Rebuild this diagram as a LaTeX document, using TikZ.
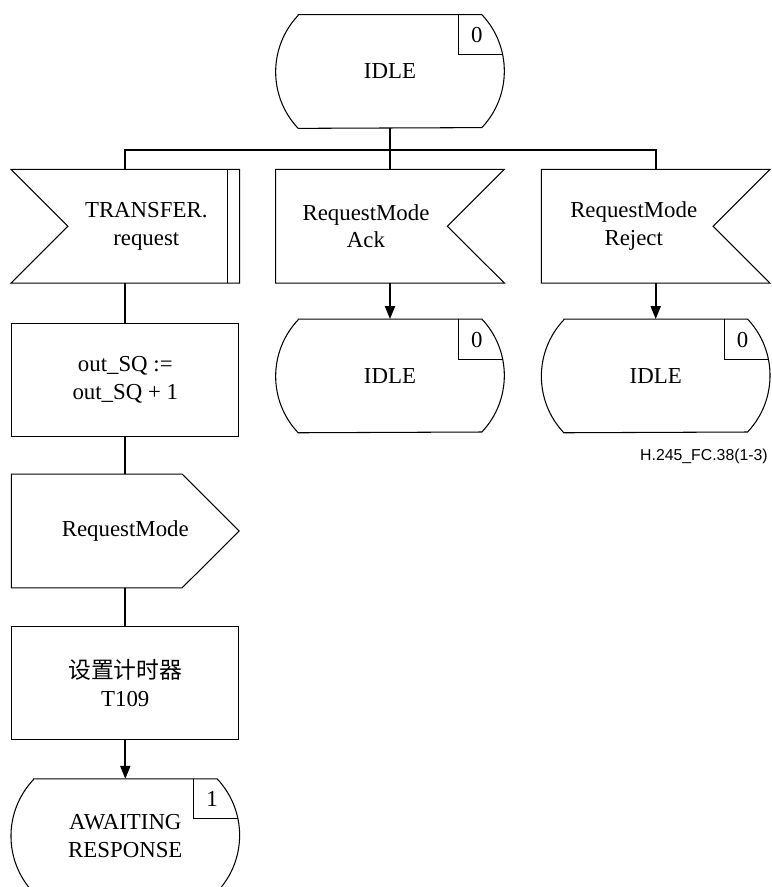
\documentclass[tikz,border=0pt]{standalone}
\usepackage{fontspec}
\setmainfont{Liberation Serif}
\newfontfamily\cjk{Noto Sans CJK SC}
\newfontfamily\policeref{Liberation Sans}
\usetikzlibrary{arrows.meta, positioning}
\tikzset{
  etat/.style={minimum width=45.6mm, minimum height=22.6mm, inner sep=0pt, align=center},
  entree/.style={minimum width=45.6mm, minimum height=22.6mm, inner sep=0pt},
  tache/.style={draw, line width=0.6pt, minimum width=45.4mm, minimum height=22.6mm,
    inner sep=0pt, align=center},
  sortie/.style={minimum width=45.4mm, minimum height=22.6mm, inner sep=0pt, align=center},
  texte/.style={align=center, inner sep=0pt},
  contour/.style={line width=0.6pt, line join=miter},
  trait/.style={line width=1.1pt},
  fleche/.style={trait, -{Triangle[length=2.6mm, width=2mm]}},
  reference/.style={font=\policeref\fontsize{9}{11}\selectfont, inner sep=0pt},
}

\begin{document}
\begin{tikzpicture}[font=\fontsize{13}{15.9}\selectfont]
    \useasboundingbox (0,0) rectangle (154.4mm,-177.4mm);

    \node[etat] (idle) at (78mm,-14.3mm) {IDLE};

    % les trois entrees
    \node[entree, below=8.2mm of idle] (ack) {};
    \node[entree, left=7.2mm of ack] (transfer) {};
    \node[entree, right=7.4mm of ack] (rej) {};
    \node[texte] (transfer-t) at ([xshift=4.2mm]transfer.center) {TRANSFER.\\request};
    \node[texte] (ack-t) at ([xshift=-4.8mm]ack.center) {RequestMode\\Ack};
    \node[texte] (rej-t) at ([xshift=-4.4mm]rej.center) {RequestMode\\Reject};

    % branche TRANSFER.request
    \node[tache, below=8mm of transfer] (incr) {out\_SQ :=\\out\_SQ + 1};
    \node[sortie, below=7.4mm of incr] (envoi) {RequestMode};
    \node[tache, below=7.6mm of envoi] (timer) {{\cjk 设置计时器}\\T109};
    \node[etat, below=7.8mm of timer] (waiting) {AWAITING\\RESPONSE};

    % retours a IDLE
    \node[etat, below=7.2mm of ack] (ackidle) {IDLE};
    \node[etat, below=7.2mm of rej] (rejidle) {IDLE};

    \node[reference, anchor=base east] (figref) at ([xshift=-0.4mm, yshift=-5.6mm]rejidle.south east)
      {H.245\_FC.38(1-3)};

    % contours des etats
    \foreach \s/\num in {idle/0, ackidle/0, rejidle/0, waiting/1} {
      \draw[contour] ([xshift=4.5mm]\s.north west) -- ([xshift=-4.5mm]\s.north east)
        arc[start angle=43.4, end angle=-43.4, radius=16.44mm]
        -- ([xshift=4.5mm]\s.south west)
        arc[start angle=223.4, end angle=136.6, radius=16.44mm] -- cycle;
      \draw[contour] ([xshift=-9.2mm]\s.north east) |- ([xshift=-0.34mm, yshift=-8mm]\s.north east);
      \node (\s-num) at ([xshift=-5.5mm, yshift=-4.1mm]\s.north east) {\num};
    }

    % entree cote gauche, double barre
    \draw[contour] (transfer.north west) -- (transfer.north east) -- (transfer.south east)
      -- (transfer.south west) -- ([xshift=11.4mm]transfer.west) -- cycle;
    \draw[contour] ([xshift=-2.4mm]transfer.north east) -- ([xshift=-2.4mm]transfer.south east);

    % entrees cote droit
    \foreach \n in {ack, rej}
      \draw[contour] (\n.north west) -- (\n.north east) -- ([xshift=-11.4mm]\n.east)
        -- (\n.south east) -- (\n.south west) -- cycle;

    % sortie
    \draw[contour] (envoi.north west) -- ([xshift=-11.4mm]envoi.north east) -- (envoi.east)
      -- ([xshift=-11.4mm]envoi.south east) -- (envoi.south west) -- cycle;

    % liaisons
    \coordinate[below=4.4mm of idle.south] (bus);
    \draw[trait] (idle) -- (bus);
    \draw[trait] (transfer.north) |- (bus) -| (rej.north);
    \draw[trait] (bus) -- (ack);
    \draw[trait] (transfer) -- (incr);
    \draw[trait] (incr) -- (envoi);
    \draw[trait] (envoi) -- (timer);
    \draw[fleche] (timer) -- (waiting);
    \draw[fleche] (ack) -- (ackidle);
    \draw[fleche] (rej) -- (rejidle);
\end{tikzpicture}
\end{document}
